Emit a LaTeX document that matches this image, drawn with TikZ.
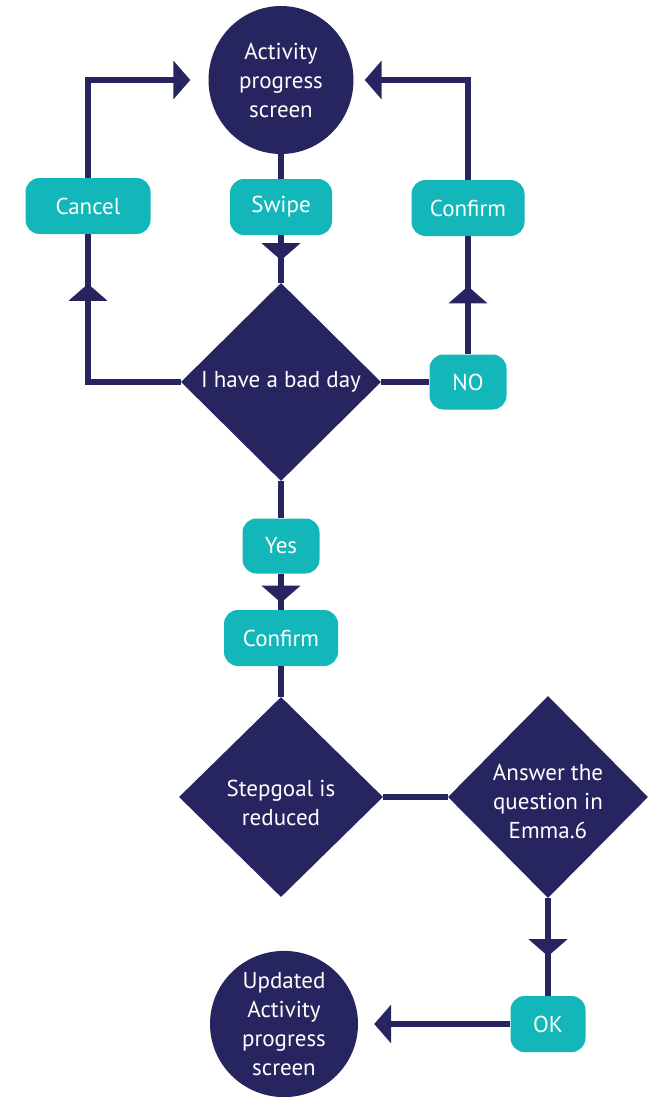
\documentclass[tikz,border=0pt]{standalone}
\usepackage{fontspec}
\setmainfont{PT Sans}
\usetikzlibrary{shapes.geometric,arrows.meta,decorations.markings}
\definecolor{navy}{RGB}{39,37,95}
\definecolor{boxteal}{RGB}{19,183,185}
\tikzset{
  Tri/.tip={Triangle[length=17pt,width=38pt]},
  flow/.style={draw=navy, line width=6pt},
  midtip/.style={postaction={decorate},
    decoration={markings, mark=at position #1 with {\arrow{Tri}}}},
  lbl/.style={text=white, align=center, font=\fontsize{23}{29}\selectfont},
  btn/.style={lbl, fill=boxteal, rounded corners=14pt, inner sep=0pt},
  disc/.style={lbl, ellipse, fill=navy, inner sep=0pt},
  diam/.style={diamond, fill=navy, inner sep=0pt},
}
\begin{document}
\begin{tikzpicture}[x=1pt, y=-1pt]
  \useasboundingbox (0,0) rectangle (654,1097);

  % screens
  \node[disc, minimum width=145pt, minimum height=148pt] (top) at (281,80)
    {Activity\\progress\\screen};
  \node[disc, minimum width=148pt, minimum height=146pt] (fin) at (284,1024)
    {Updated\\Activity\\progress\\screen};

  % actions
  \node[btn, minimum width=125pt, minimum height=56pt] (cancel) at (88,206) {Cancel};
  \node[btn, minimum width=102pt, minimum height=56pt] (swipe) at (281,207) {Swipe};
  \node[btn, minimum width=113pt, minimum height=56pt] (conf1) at (468,208) {Confirm};
  \node[btn, minimum width=77pt, minimum height=55pt] (no) at (468,382) {NO};
  \node[btn, minimum width=77pt, minimum height=55pt] (yes) at (281,546) {Yes};
  \node[btn, minimum width=114pt, minimum height=56pt] (conf2) at (281,638) {Confirm};
  \node[btn, minimum width=75pt, minimum height=56pt] (ok) at (548,1024) {OK};

  % decisions
  \node[diam, minimum width=200pt, minimum height=198pt] (d1) at (281,382) {};
  \node[lbl] (t1) at (d1) {I have a bad day};
  \node[diam, minimum width=204pt, minimum height=200pt] (d2) at (281,797) {};
  \node[lbl] (t2) at ([yshift=-6pt]d2.center) {Stepgoal is\\reduced};
  \node[diam, minimum width=200pt, minimum height=202pt] (d3) at (548,797) {};
  \node[lbl] (t3) at ([yshift=-4pt]d3.center) {Answer the\\question in\\Emma.6};

  % connectors
  \draw[flow] (top.south) -- (swipe.north);
  \draw[flow, midtip=25pt] (swipe.south) -- (d1.north);
  \draw[flow, midtip=191pt] (d1.west) -| (cancel.south);
  \draw[flow, -Tri, shorten >=18pt] (cancel.north) |- (top);
  \draw[flow] (d1.east) -- (no.west);
  \draw[flow, midtip=68pt] (no.north) -- (conf1.south);
  \draw[flow, -Tri, shorten >=11pt] (conf1.north) |- (top);
  \draw[flow] (d1.south) -- (yes.north);
  \draw[flow, midtip=29pt] (yes.south) -- (conf2.north);
  \draw[flow] (conf2.south) -- (d2.north);
  \draw[flow] (d2.east) -- (d3.west);
  \draw[flow, midtip=58pt] (d3.south) -- (ok.north);
  \draw[flow, -Tri, shorten >=16pt] (ok.west) -- (fin);
\end{tikzpicture}
\end{document}
